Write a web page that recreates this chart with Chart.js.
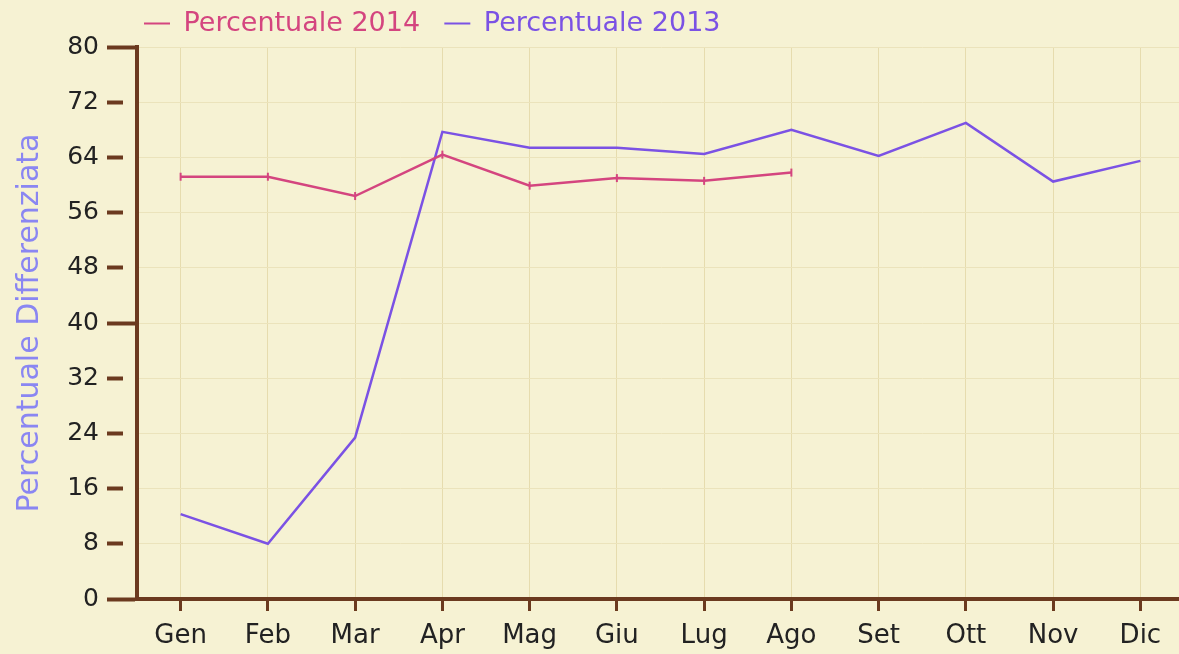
<!DOCTYPE html>
<html>
<head>
<meta charset="utf-8">
<script src="https://cdn.jsdelivr.net/npm/chart.js@4/dist/chart.umd.min.js"></script>
<style>
  html, body { margin: 0; padding: 0; background: #f6f2d3; overflow: hidden; }
  #chart { display: block; }
</style>
</head>
<body>
<canvas id="chart" width="1190" height="654"></canvas>
<script>
const months = ["Gen", "Feb", "Mar", "Apr", "Mag", "Giu", "Lug", "Ago", "Set", "Ott", "Nov", "Dic"];
const perc2014 = [61.2, 61.2, 58.4, 64.4, 59.9, 61.0, 60.6, 61.8, null, null, null, null];
const perc2013 = [12.3, 8.0, 23.4, 67.7, 65.4, 65.4, 64.5, 68.0, 64.2, 69.0, 60.5, 63.5];
const yTicks = [0, 8, 16, 24, 32, 40, 48, 56, 64, 72, 80];

const pink = "#d4457f";
const purple = "#7b52e4";
const brown = "#6b3a1f";
const font = "'DejaVu Sans', Verdana, sans-serif";

const ctx = document.getElementById("chart").getContext("2d");

new Chart(ctx, {
    type: "line",
    data: {
        labels: months,
        datasets: [{
            label: "Percentuale 2014",
            data: perc2014,
            borderColor: pink,
            backgroundColor: pink,
            borderWidth: 2.5,
            pointStyle: "line",
            rotation: 90,
            pointRadius: 4,
            pointBorderWidth: 2,
            spanGaps: false
        }, {
            label: "Percentuale 2013",
            data: perc2013,
            borderColor: purple,
            backgroundColor: purple,
            borderWidth: 2.5,
            pointRadius: 0
        }]
    },
    options: {
        responsive: false,
        animation: false,
        layout: { padding: { left: 0, right: 2, top: 3, bottom: 0 } },
        plugins: {
            tooltip: { enabled: false },
            legend: {
                position: "top",
                align: "start",
                fullSize: false,
                labels: {
                    usePointStyle: true,
                    pointStyle: "line",
                    pointStyleWidth: 26,
                    padding: 7,
                    font: { family: font, size: 27 },
                    generateLabels(chart) {
                        // two spaces of air after each item, like the original
                        return chart.data.datasets.map((ds, i) => ({
                            text: ds.label + "  ",
                            fillStyle: ds.borderColor,
                            strokeStyle: ds.borderColor,
                            fontColor: ds.borderColor,
                            lineWidth: 2,
                            pointStyle: "line",
                            datasetIndex: i
                        }));
                    }
                }
            }
        },
        scales: {
            x: {
                offset: true,
                border: { color: brown, width: 4 },
                grid: {
                    offset: false,
                    color: "#e6dcae",
                    lineWidth: 1,
                    tickColor: brown,
                    tickWidth: 3,
                    tickLength: 12
                },
                ticks: {
                    color: "#222",
                    font: { family: font, size: 26 },
                    padding: 10
                },
                afterFit(scale) { scale.height = 55; }
            },
            y: {
                min: 0,
                max: 80,
                afterBuildTicks(scale) {
                    scale.ticks = yTicks.map(v => ({ value: v }));
                },
                border: { color: brown, width: 4 },
                grid: {
                    color: "#ebe3bb",
                    lineWidth: 1,
                    tickColor: brown,
                    tickWidth: 4,
                    tickLength: 30,
                    tickBorderDash: c => (c.tick && c.tick.value % 40 === 0) ? [] : [16, 100]
                },
                ticks: {
                    color: "#222",
                    font: { family: font, size: 25 },
                    padding: 8
                },
                title: {
                    display: true,
                    text: "Percentuale Differenziata",
                    color: "#8a86f2",
                    font: { family: font, size: 30 },
                    padding: { top: 12, bottom: 0 }
                },
                afterFit(scale) { scale.width = 137; }
            }
        }
    }
});
</script>
</body>
</html>
